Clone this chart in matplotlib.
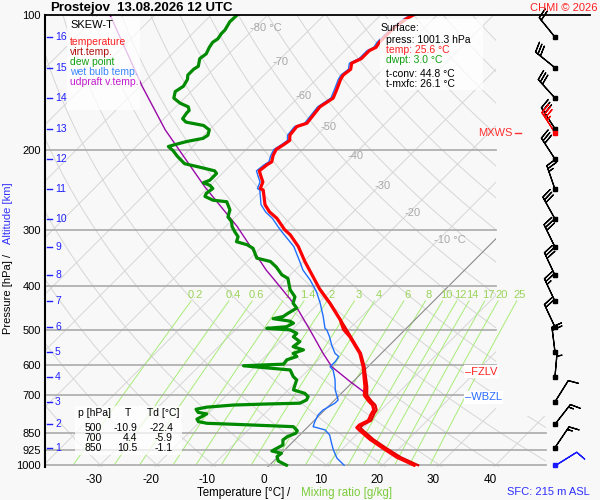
import numpy as np
import matplotlib
matplotlib.use("Agg")
import matplotlib.pyplot as plt
from matplotlib.patches import Polygon, Rectangle
from matplotlib.ticker import NullLocator
from matplotlib.transforms import blended_transform_factory

plt.rcParams['font.family'] = ['Liberation Sans', 'DejaVu Sans']
plt.rcParams['axes.unicode_minus'] = False

# ---------------- sounding data (p in hPa, T in deg C) ----------------
temp_p = [1001.3, 961, 918, 877, 839, 826, 815, 797, 768, 755, 736, 720, 700, 670, 605,
          565, 550, 519, 500, 476, 437, 408, 382, 353, 327, 308, 300, 283, 274, 264,
          245, 243, 235, 229, 222, 215, 212, 205, 199, 194, 190, 185, 177, 174, 167,
          160, 153, 147, 139, 136, 132, 128, 125, 120, 118, 115, 112, 107, 102, 100]
temp_t = [25.6, 21.1, 17.1, 13.2, 9.9, 8.8, 8.8, 9.6, 8.9, 8.7, 7.6, 6.1, 4.4, 3.0, -0.85,
          -3.8, -5.3, -8.5, -10.9, -13.2, -18.0, -22.1, -25.6, -29.8, -33.6, -37.1, -39.0, -42.4, -44.8, -46.9,
          -49.8, -50.6, -51.3, -52.5, -53.9, -53.6, -53.3, -54.2, -54.7, -54.2, -53.9, -54.8, -55.1, -53.9, -54.2,
          -54.5, -53.7, -54.5, -55.7, -56.0, -55.7, -56.6, -55.7, -55.7, -55.1, -55.4, -55.4, -55.4, -54.8, -54.2]

virt_p = [1001.3, 961, 918, 877, 839, 826, 815, 797, 768, 755, 736, 720, 700, 670, 605,
          565, 519, 476, 437, 408]
virt_t = [26.3, 21.8, 17.7, 13.8, 10.5, 9.4, 9.4, 10.1, 9.4, 9.2, 8.1, 6.6, 4.9, 3.4, -0.6,
          -3.6, -8.3, -13.1, -17.9, -22.0]

dew_p = [1001.3, 980, 958, 942, 931, 918, 903, 880, 865, 850, 839, 822, 812, 808, 801,
         791, 781, 770, 764, 752, 744, 736, 732, 729, 717, 705, 693, 681, 647, 636,
         615, 602, 597, 584, 574, 565, 555, 546, 532, 519, 510, 501, 497, 493, 484,
         479, 473, 468, 460, 448, 437, 423, 408, 385, 378, 363, 353, 347, 330, 324,
         319, 311, 303, 295, 288, 281, 271, 260, 258, 253, 249, 243, 239, 236, 233,
         225, 222, 218, 214, 206, 200, 196, 194, 191, 188, 185, 180, 176, 173, 170,
         165, 163, 160, 157, 153, 148, 144, 139, 136, 132, 130, 125, 122, 118, 115,
         113, 110, 108, 103.5, 100]
dew_t = [3.0, 0.8, -0.2, 0.0, -2.1, -1.7, -1.2, -2.1, -1.9, -1.0, -1.2, -2.6, -13.7, -18.5, -20.3,
         -21.0, -20.6, -20.2, -22.0, -22.9, -21.4, -17.1, -11.3, -5.6, -5.0, -5.3, -6.5, -9.1, -10.3, -11.5,
         -13.2, -22.2, -15.4, -15.6, -14.4, -15.6, -14.4, -16.8, -16.5, -18.5, -18.5, -20.3, -24.7, -21.5, -20.9,
         -21.9, -25.3, -23.9, -23.6, -23.0, -24.5, -25.3, -27.4, -29.8, -31.5, -33.9, -35.9, -38.9, -41.3, -43.0,
         -45.4, -46.0, -47.5, -48.9, -49.8, -51.3, -52.2, -54.2, -56.9, -59.0, -59.3, -59.0, -60.1, -61.7, -61.0,
         -61.0, -61.8, -65.0, -68.4, -71.0, -72.8, -74.3, -73.4, -71.9, -69.6, -69.3, -70.0, -71.8, -75.5, -76.7,
         -77.0, -77.0, -77.8, -79.9, -81.9, -82.8, -82.3, -82.8, -83.5, -83.5, -83.2, -84.3, -84.0, -84.6, -84.9,
         -84.6, -84.9, -84.9, -85.5, -85.4]

wb_p = [1001.3, 966, 926, 895, 858, 836, 822, 801, 774, 755, 729, 717, 681, 647, 615,
        605, 589, 574, 565, 541, 519, 501, 497, 468, 437, 412, 388, 369, 353, 327,
        300, 283, 274, 264, 245, 243, 235, 229, 222, 215, 212, 205, 199, 194, 190,
        185, 177, 174, 167, 160, 153, 147, 139, 136, 132, 128, 125, 120, 118, 115,
        112, 107, 102, 100]
wb_t = [13.2, 10.7, 8.6, 7.1, 5.3, 3.6, 0.9, 0.3, -0.3, -0.3, 0.6, 0.6, -1.7, -3.5, -5.6,
        -6.7, -6.7, -7.0, -8.2, -10.3, -12.1, -13.8, -14.4, -16.8, -19.7, -22.4, -25.6, -28.6, -30.7, -34.4,
        -39.8, -43.2, -45.5, -47.6, -50.4, -51.1, -51.8, -53.0, -54.4, -54.1, -53.8, -54.6, -55.1, -54.6, -54.3,
        -55.2, -55.5, -54.3, -54.6, -54.9, -54.1, -54.9, -56.1, -56.4, -56.1, -57.0, -56.1, -56.1, -55.5, -55.8,
        -55.8, -55.8, -55.2, -54.6]

upd_p = [687, 653, 605, 565, 501, 445, 385, 369, 295, 241, 180, 144, 100]
upd_t = [3.6, -0.5, -6.4, -10.3, -16.8, -23.3, -32.4, -35.1, -48.0, -60.7, -77.8, -89.6, -107.9]

# wind every km (surface first), direction in deg, speed in kt
wind_p = [1001.3, 915, 812, 724, 636, 561, 494, 433, 379, 328, 284, 244, 209, 179, 153, 131, 112]
wind_dir = [58, 34, 38, 32, 5, 353, 335, 335, 335, 334, 331, 341, 327, 327, 318, 309, 321]
wind_spd = [10, 15, 15, 10, 5, 20, 20, 25, 30, 30, 30, 25, 30, 30, 30, 30, 20]
mxws_p, mxws_dir, mxws_spd = 183, 327, 35
fzlv_p, wbzl_p = 620, 707

alt_km = list(range(1, 17))
alt_p = [915, 812, 724, 636, 561, 494, 433, 379, 328, 284, 244, 209, 179, 153, 131, 112]

p_ticks = [100, 200, 300, 400, 500, 600, 700, 850, 925, 1000]
t_ticks = [-30, -20, -10, 0, 10, 20, 30, 40]
mix_w = [0.2, 0.4, 0.6, 1, 1.4, 2, 3, 4, 6, 8, 10, 12, 14, 17, 20, 25]
iso_lab_t = [-80, -70, -60, -50, -40, -30, -20, -10]
iso_lab_p = [107, 127, 151, 177, 206, 240, 275, 316]

table_rows = [("500", "-10.9", "-22.4"), ("700", "4.4", "-5.9"), ("850", "10.5", "-1.1")]

K = 34.58     # skew in deg C per ln(p)
P0 = 1030.0   # pressure where the T axis labels sit


def skew(t, p):
    return np.asarray(t, float) + K * np.log(P0 / np.asarray(p, float))


def xpix(px):
    return (px - 264.0) / 5.65


fig = plt.figure(figsize=(6, 5), dpi=100)
bg = '#f8f8f8'
fig.patch.set_facecolor(bg)
ax = fig.add_axes([45 / 600, 1 - 466.9 / 500, 545 / 600, (466.9 - 15) / 500])
ax.set_facecolor(bg)
ax.set_yscale('log')
ax.set_ylim(1010, 100)
xl, xr1, xr2 = xpix(45), xpix(496), xpix(546)
ax.set_xlim(xl, xpix(590))
for s in ['top', 'right', 'bottom']:
    ax.spines[s].set_visible(False)
ax.spines['left'].set_linewidth(1.5)

clip = Polygon([(xl, 100), (xr1, 100), (xr1, 780), (xr2, 780), (xr2, 1010), (xl, 1010)],
               closed=True, fill=False, edgecolor='none')
ax.add_patch(clip)

# isotherms
pp = np.array([1010.0, 100.0])
for t in range(-160, 60, 10):
    col, lw = ('#8a8a8a', 0.8) if t == 0 else ('#d6d6d6', 0.7)
    ln, = ax.plot(skew([t, t], pp), pp, color=col, lw=lw, zorder=1.2 if t == 0 else 1)
    ln.set_clip_path(clip)

# dry adiabats
pg = np.geomspace(1010, 100, 80)
for th in range(-40, 200, 10):
    t = (th + 273.15) * (pg / 1000.0) ** 0.286 - 273.15
    ln, = ax.plot(skew(t, pg), pg, color='#d6d6d6', lw=0.7, zorder=1)
    ln.set_clip_path(clip)

# mixing ratio lines
pm = np.geomspace(1000, 432, 40)
for w in mix_w:
    a = np.log(w * pm / (622.0 + w) / 6.112)
    td = 243.5 * a / (17.67 - a)
    ax.plot(skew(td, pm), pm, color='#a8ec78', lw=0.7, zorder=1.1)
    a0 = np.log(w * 419 / (622.0 + w) / 6.112)
    ax.text(skew(243.5 * a0 / (17.67 - a0), 419), 419, f"{w:g}", color='#9ad45a',
            fontsize=8, ha='center', va='center', zorder=1.5)

for t, p in zip(iso_lab_t, iso_lab_p):
    lab = f"{t} °C" if t in (-80, -10) else f"{t}"
    ax.text(skew(t, p) - 0.85, p, lab, color='#a8a8a8', fontsize=8, ha='left', va='center', zorder=1.5)

# isobars
for p in [200, 300, 400, 500, 600, 700]:
    ax.plot([xl, xr1], [p, p], color='#aaaaaa', lw=1.2, zorder=2)
for p in [850, 925, 1000]:
    ax.plot([xl, xr2], [p, p], color='#aaaaaa', lw=1.2, zorder=2)
ax.plot([xl, xpix(590)], [100, 100], color='k', lw=1.3, clip_on=False, zorder=6)

# profiles
ax.plot(skew(upd_t, upd_p), upd_p, color='#9a0aa8', lw=1.0, zorder=3)
ax.plot(skew(wb_t, wb_p), wb_p, color='#1f6fff', lw=1.0, zorder=3)
ax.plot(skew(dew_t, dew_p), dew_p, color='#008a00', lw=2.3, zorder=4)
ax.plot(skew(virt_t, virt_p), virt_p, color='#e00000', lw=1.6, zorder=4)
ax.plot(skew(temp_t, temp_p), temp_p, color='#ff0000', lw=2.3, zorder=5)

# ticks
ax.set_yticks(p_ticks)
ax.set_yticklabels([str(p) for p in p_ticks])
ax.yaxis.set_minor_locator(NullLocator())
ax.set_xticks(t_ticks)
ax.set_xticklabels([str(t) for t in t_ticks])
ax.tick_params(axis='y', length=0, pad=3, labelsize=8)
ax.tick_params(axis='x', length=0, pad=5, labelsize=8.5)

# altitude scale
trans = blended_transform_factory(ax.transAxes, ax.transData)
for km, p in zip(alt_km, alt_p):
    ax.plot([2 / 545, 7 / 545], [p, p], transform=trans, color='#2020ff', lw=1.0, zorder=6)
    ax.text(10 / 545, p, str(km), transform=trans, color='#2020ff', fontsize=7.5,
            ha='left', va='center', zorder=6)

# wind barbs
xb = xpix(555)
wd = np.radians(wind_dir)
spd = np.array(wind_spd, float)
u, v = -spd * np.sin(wd), -spd * np.cos(wd)
n = len(wind_p)
ax.barbs(np.full(n - 1, xb), wind_p[1:], u[1:], v[1:], length=6, lw=0.9,
         color='k', zorder=6, clip_on=False)
ax.barbs([xb], [wind_p[0]], [u[0]], [v[0]], length=6, lw=0.9, color='#1a1aff', zorder=6, clip_on=False)
md = np.radians(mxws_dir)
ax.barbs([xb], [mxws_p], [-mxws_spd * np.sin(md)], [-mxws_spd * np.cos(md)], length=6,
         lw=0.9, color='#ff0000', zorder=6, clip_on=False)
ax.plot([xb] * (n - 1), wind_p[1:], 's', ms=2.6, color='k', zorder=7, clip_on=False)
ax.plot([xb], [wind_p[0]], 's', ms=2.6, color='#1a1aff', zorder=7, clip_on=False)
ax.plot([xb], [mxws_p], 's', ms=2.6, color='#ff0000', zorder=7, clip_on=False)

# level markers
ax.text(xpix(512.5), mxws_p, "MXWS", color='#ff3030', fontsize=8, ha='right', va='center', zorder=6)
ax.plot([xpix(515), xpix(521)], [mxws_p, mxws_p], color='#ff3030', lw=1, zorder=6)
ax.text(xpix(465), fzlv_p, "\u2013FZLV", color='#ff2020', fontsize=8, ha='left', va='center', zorder=6,
        bbox=dict(facecolor='white', edgecolor='none', pad=1))
ax.text(xpix(465), wbzl_p, "\u2013WBZL", color='#2a6cff', fontsize=8, ha='left', va='center', zorder=6,
        bbox=dict(facecolor='white', edgecolor='none', pad=1))


def fbox(x0, y0, x1, y1, alpha=0.75):
    fig.add_artist(Rectangle((x0 / 600, 1 - y1 / 500), (x1 - x0) / 600, (y1 - y0) / 500,
                             transform=fig.transFigure, facecolor='white', edgecolor='none',
                             alpha=alpha, zorder=5))


def ftext(x, y, s, **kw):
    kw.setdefault('fontsize', 7.5)
    kw.setdefault('va', 'center')
    fig.text(x / 600, 1 - y / 500, s, zorder=6, **kw)


# legend
fbox(67, 17, 140, 110)
ftext(70, 25, "SKEW-T", color='black', fontsize=8)
for yy, s, c in [(42, "temperature", '#ff2020'), (52, "virt.temp.", '#b01010'),
                 (62, "dew point", '#12a012'), (72, "wet bulb temp.", '#3a86ff'),
                 (82, "udpraft v.temp.", '#c21ccc')]:
    ftext(70, yy, s, color=c)

# surface box
fbox(380, 19, 483, 90)
ftext(381, 28, "Surface:", color='black')
ftext(386, 40, "press: 1001.3 hPa", color='black')
ftext(386, 50, "temp: 25.6 °C", color='#ff2020')
ftext(386, 60, "dwpt: 3.0 °C", color='#12a012')
ftext(386, 74, "t-conv: 44.8 °C", color='black')
ftext(386, 84, "t-mxfc: 26.1 °C", color='black')

# table
fbox(75, 406, 182, 455)
ftext(78, 413, "p [hPa]", color='black')
ftext(125, 413, "T", color='black')
ftext(147, 413, "Td [°C]", color='black')
for i, (pr, tt, td) in enumerate(table_rows):
    yy = 428.3 + 10 * i
    ftext(102, yy, pr, color='black', ha='right')
    ftext(137, yy, tt, color='black', ha='right')
    ftext(173, yy, td, color='black', ha='right')

# titles and axis labels
ftext(50, 8, "Prostejov", color='black', fontsize=9.5, fontweight='bold')
ftext(117, 8, "13.08.2026 12 UTC", color='black', fontsize=9.5, fontweight='bold')
ftext(597, 8, "CHMI © 2026", color='#ff2020', fontsize=8, ha='right')
ftext(197, 493, "Temperature [°C]", color='black', fontsize=8.3)
ftext(287, 493, "/", color='black', fontsize=8.3)
ftext(301, 493, "Mixing ratio [g/kg]", color='#7acc3a', fontsize=8.3)
ftext(590, 492, "SFC: 215 m ASL", color='#2d2dff', fontsize=8, ha='right')
ftext(8, 297.5, "Pressure [hPa]", color='black', fontsize=8, rotation=90, ha='center')
ftext(8, 255, "/", color='black', fontsize=8, rotation=90, ha='center')
ftext(8, 213, "Altitude [km]", color='#3333ff', fontsize=8, rotation=90, ha='center')

fig.savefig("out.png", dpi=100, facecolor=bg)
